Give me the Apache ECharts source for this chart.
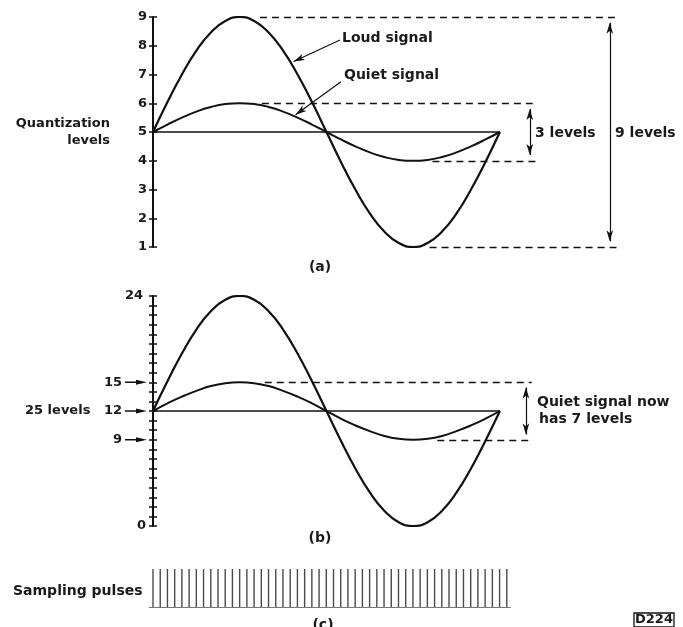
<!DOCTYPE html>
<html>
<head>
<meta charset="utf-8">
<script src="https://cdn.jsdelivr.net/npm/echarts@6/dist/echarts.min.js"></script>
<style>
  html, body { margin: 0; padding: 0; background: #fff; }
  #main { width: 683px; height: 627px; }
</style>
</head>
<body>
<div id="main"></div>
<script>
// phase of the signal in degrees (one full cycle)
var phase = [0, 15, 30, 45, 60, 75, 90, 105, 120, 135, 150, 165, 180,
             195, 210, 225, 240, 255, 270, 285, 300, 315, 330, 345, 360];
// (a) 9 quantization levels
var loudA  = [5, 6.04, 7, 7.83, 8.46, 8.86, 9, 8.86, 8.46, 7.83, 7, 6.04, 5,
              3.96, 3, 2.17, 1.54, 1.14, 1, 1.14, 1.54, 2.17, 3, 3.96, 5];
var quietA = [5, 5.26, 5.5, 5.71, 5.87, 5.97, 6, 5.97, 5.87, 5.71, 5.5, 5.26, 5,
              4.74, 4.5, 4.29, 4.13, 4.03, 4, 4.03, 4.13, 4.29, 4.5, 4.74, 5];
// (b) 25 quantization levels
var loudB  = [12, 15.1, 18, 20.5, 22.4, 23.6, 24, 23.6, 22.4, 20.5, 18, 15.1, 12,
              8.9, 6, 3.5, 1.6, 0.4, 0, 0.4, 1.6, 3.5, 6, 8.9, 12];
var quietB = [12, 12.8, 13.5, 14.1, 14.6, 14.9, 15, 14.9, 14.6, 14.1, 13.5, 12.8, 12,
              11.2, 10.5, 9.9, 9.4, 9.1, 9, 9.1, 9.4, 9.9, 10.5, 11.2, 12];
var baseA = 5;
var baseB = 12;
var labelsB = [0, 9, 12, 15, 24];
var arrowLabelsB = [9, 12, 15];
// (c) sampling pulses, all the same height
var pulses = [1, 1, 1, 1, 1, 1, 1, 1, 1, 1, 1, 1, 1, 1, 1, 1, 1, 1, 1, 1, 1, 1, 1, 1, 1,
              1, 1, 1, 1, 1, 1, 1, 1, 1, 1, 1, 1, 1, 1, 1, 1, 1, 1, 1, 1, 1, 1, 1, 1, 1];

var FONT = '"DejaVu Sans", sans-serif';
var INK = '#111';
var TXT = '#1a1a1a';

function pairs(xs, ys) {
  return xs.map(function (x, i) { return [x, ys[i]]; });
}

function yAxisCfg(grid, min, max, inner, labelCfg) {
  return {
    type: 'value', gridIndex: grid, position: 'left', min: min, max: max, interval: 1,
    axisLine: { show: !inner, onZero: false, lineStyle: { color: INK, width: 2 } },
    axisTick: { show: true, inside: inner, length: 4, lineStyle: { color: INK, width: 1.5 } },
    axisLabel: inner ? { show: false } : labelCfg,
    splitLine: { show: false }
  };
}

function curve(name, grid, data, width) {
  return {
    name: name, type: 'line', xAxisIndex: grid, yAxisIndex: grid,
    data: data, smooth: true, symbol: 'none', silent: true,
    lineStyle: { color: INK, width: width }
  };
}

function marks(grid, dashed, arrows) {
  return {
    type: 'line', xAxisIndex: grid, yAxisIndex: grid, data: [], silent: true,
    markLine: {
      silent: true, animation: false, label: { show: false },
      symbol: arrows ? arrows : 'none', symbolSize: [5, 11],
      lineStyle: { color: INK, width: dashed ? 1.3 : 1.2, type: dashed ? [7, 5] : 'solid' },
      data: []
    }
  };
}
function seg(x1, y1, x2, y2) { return [{ coord: [x1, y1] }, { coord: [x2, y2] }]; }

var dashA = marks(0, true);
dashA.markLine.data = [seg(111, 9, 481, 9), seg(113, 6, 394, 6), seg(290, 4, 398, 4), seg(287, 1, 481, 1)];
var dimA = marks(0, false, ['arrow', 'arrow']);
dimA.markLine.data = [seg(391, 5.8, 391, 4.2), seg(474, 8.8, 474, 1.2)];
var ptrA = marks(0, false, ['none', 'arrow']);
ptrA.markLine.data = [seg(194, 8.2, 146, 7.45), seg(195, 6.75, 148, 5.6)];

var dashB = marks(1, true);
dashB.markLine.data = [seg(116, 15, 393, 15), seg(295, 9, 394, 9)];
var dimB = marks(1, false, ['arrow', 'arrow']);
dimB.markLine.data = [seg(387, 14.45, 387, 9.55)];

var chart = echarts.init(document.getElementById('main'), null, { renderer: 'canvas' });

var tickFont = { color: TXT, fontSize: 13, fontWeight: 'bold', fontFamily: FONT };

var option = {
  backgroundColor: '#fff',
  animation: false,
  grid: [
    { left: 153, top: 17, width: 530, height: 230, containLabel: false, outerBoundsMode: 'none' },
    { left: 153, top: 296, width: 530, height: 230, containLabel: false, outerBoundsMode: 'none' },
    { left: 149.4, top: 569, width: 361, height: 38, containLabel: false, outerBoundsMode: 'none' }
  ],
  xAxis: [
    { type: 'value', gridIndex: 0, min: 0, max: 550, show: false },
    { type: 'value', gridIndex: 1, min: 0, max: 550, show: false },
    {
      type: 'category', gridIndex: 2, data: pulses.map(function (v, i) { return i + 1; }),
      axisLine: { show: true, lineStyle: { color: '#777', width: 1 } },
      axisTick: { show: false }, axisLabel: { show: false }, splitLine: { show: false }
    }
  ],
  yAxis: [
    yAxisCfg(0, 1, 9, false, Object.assign({ show: true, margin: 6 }, tickFont)),
    yAxisCfg(1, 0, 24, false, Object.assign({
      show: true, margin: 7,
      formatter: function (v) {
        if (labelsB.indexOf(v) < 0) return '';
        if (arrowLabelsB.indexOf(v) >= 0) return '{p|' + v + '}';
        return v === 24 ? '{t|' + v + '}' : '' + v;
      },
      rich: {
        p: Object.assign({ padding: [0, 24, 0, 0] }, tickFont),
        t: Object.assign({ padding: [0, 3, 0, 0] }, tickFont)
      }
    }, tickFont)),
    yAxisCfg(0, 1, 9, true),
    yAxisCfg(1, 0, 24, true),
    { type: 'value', gridIndex: 2, min: 0, max: 1, show: false }
  ],
  series: [
    curve('Loud signal', 0, pairs(phase, loudA), 2.2),
    curve('Quiet signal', 0, pairs(phase, quietA), 2),
    curve('base a', 0, [[0, baseA], [360, baseA]], 1.6),
    dashA, dimA, ptrA,
    curve('Loud signal', 1, pairs(phase, loudB), 2.2),
    curve('Quiet signal', 1, pairs(phase, quietB), 2),
    curve('base b', 1, [[0, baseB], [360, baseB]], 1.6),
    dashB, dimB,
    {
      name: 'Sampling pulses', type: 'bar', xAxisIndex: 2, yAxisIndex: 4,
      data: pulses, barWidth: 1.4, silent: true, clip: false,
      itemStyle: { color: '#4a4a4a' }
    }
  ]
};
chart.setOption(option);

function txt(s, x, y, align, size) {
  return {
    type: 'text', x: x, y: y, silent: true,
    style: {
      text: s, font: 'bold ' + (size || 14) + 'px ' + FONT, fill: TXT,
      textAlign: align || 'left', textVerticalAlign: 'middle'
    }
  };
}

var graphics = [
  txt('Quantization', 110, 124, 'right', 13),
  txt('levels', 110, 141, 'right', 13),
  txt('Loud signal', 342, 38),
  txt('Quiet signal', 344, 75),
  txt('3 levels', 535, 133),
  txt('9 levels', 615, 133),
  txt('(a)', 320, 267, 'center'),
  txt('25 levels', 25, 411, 'left', 13),
  txt('Quiet signal now', 537, 402),
  txt('has 7 levels', 539, 419),
  txt('(b)', 320, 538, 'center'),
  txt('Sampling pulses', 13, 591),
  txt('(c)', 323, 625, 'center'),
  txt('D224', 654, 620, 'center', 13),
  {
    type: 'rect', silent: true,
    shape: { x: 634, y: 613, width: 40, height: 14 },
    style: { fill: 'none', stroke: INK, lineWidth: 1.3 }
  }
];

// small arrows pointing from the labels 9, 12, 15 to the axis in (b)
arrowLabelsB.forEach(function (v) {
  var y = chart.convertToPixel({ yAxisIndex: 1 }, v);
  graphics.push({
    type: 'line', silent: true,
    shape: { x1: 125, y1: y, x2: 140, y2: y },
    style: { stroke: INK, lineWidth: 1.5 }
  });
  graphics.push({
    type: 'polygon', silent: true,
    shape: { points: [[136, y - 2.5], [147, y], [136, y + 2.5]] },
    style: { fill: INK }
  });
});

chart.setOption({ graphic: graphics });
</script>
</body>
</html>
